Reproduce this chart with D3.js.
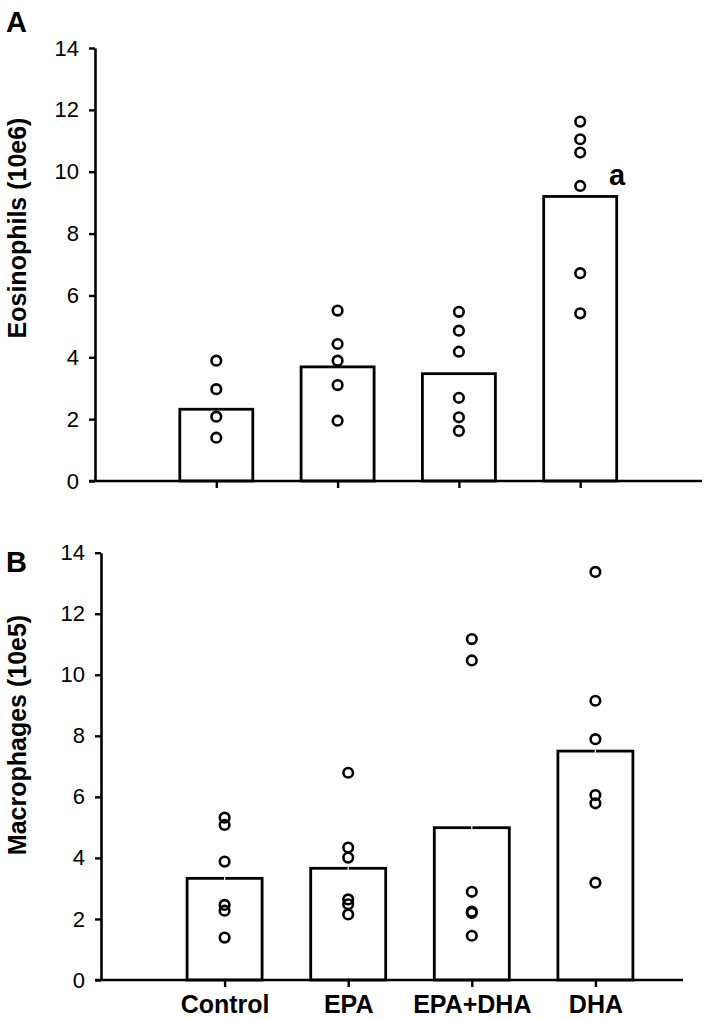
<!DOCTYPE html>
<html><head><meta charset="utf-8">
<script src="https://cdn.jsdelivr.net/npm/d3@7"></script>
<style>
html,body{margin:0;padding:0;background:#fff;}
text{font-family:"Liberation Sans",Arial,sans-serif;fill:#000;}
</style></head>
<body>
<script>
const categories = ["Control", "EPA", "EPA+DHA", "DHA"];
const yTickValues = [0, 2, 4, 6, 8, 10, 12, 14];

const eosinophilMeans = [2.32, 3.69, 3.47, 9.2];
const eosinophilPoints = [
  [3.89, 2.97, 2.08, 1.40],
  [5.51, 4.43, 3.89, 3.10, 1.95],
  [5.47, 4.86, 4.18, 2.69, 2.06, 1.62],
  [11.62, 11.05, 10.62, 9.54, 6.72, 5.42]
];
const macrophageMeans = [3.33, 3.66, 4.99, 7.50];
const macrophagePoints = [
  [5.32, 5.08, 3.88, 2.46, 2.27, 1.39],
  [6.79, 4.34, 4.01, 2.64, 2.48, 2.15],
  [11.17, 10.47, 2.89, 2.24, 2.20, 1.45],
  [13.37, 9.15, 7.89, 6.06, 5.79, 3.19]
];

const W = 705, H = 1019;
const svg = d3.select("body").append("svg").attr("width", W).attr("height", H);

function panel(cfg) {
  const g = svg.append("g");
  const y = d3.scaleLinear().domain([0, 14]).range([cfg.y0, cfg.y14]);
  const x = d3.scalePoint().domain(categories).range([cfg.ax, cfg.ax + 5 * cfg.step]).padding(1);

  g.selectAll("rect.bar").data(cfg.means).join("rect")
    .attr("x", (d, i) => x(categories[i]) - cfg.bw / 2)
    .attr("y", d => y(d))
    .attr("width", cfg.bw)
    .attr("height", d => y(0) - y(d))
    .attr("fill", "#fff").attr("stroke", "#000").attr("stroke-width", 2.8);

  if (cfg.notch) {
    g.selectAll("line.notch").data(cfg.means).join("line")
      .attr("x1", (d, i) => x(categories[i])).attr("x2", (d, i) => x(categories[i]))
      .attr("y1", d => y(d) - 1.6).attr("y2", d => y(d) + 1.6)
      .attr("stroke", "#fff").attr("stroke-width", 1.2);
  }

  cfg.points.forEach((arr, i) => {
    g.selectAll(null).data(arr).join("circle")
      .attr("cx", x(categories[i]))
      .attr("cy", d => y(d))
      .attr("r", 4.8)
      .attr("fill", "none").attr("stroke", "#000").attr("stroke-width", 2.6);
  });

  const ya = d3.axisLeft(y).tickValues(yTickValues).tickSize(6).tickSizeOuter(0).tickPadding(10);
  const yg = g.append("g").attr("transform", `translate(${cfg.ax},0)`).call(ya);
  yg.select(".domain").attr("stroke-width", 2.6);
  yg.selectAll(".tick line").attr("stroke-width", 2.4);
  yg.selectAll(".tick text").attr("font-size", 22).attr("font-family", "Liberation Sans, Arial, sans-serif").attr("fill", "#000");

  const xa = d3.axisBottom(x).tickSize(7).tickSizeOuter(0).tickPadding(8)
    .tickFormat(cfg.showLabels ? (d => d) : () => "");
  const xg = g.append("g").attr("transform", `translate(0,${cfg.y0})`).call(xa);
  xg.select(".domain").remove();
  xg.selectAll(".tick line").attr("stroke-width", 2.4);
  xg.selectAll(".tick text").attr("font-size", 25).attr("font-weight", "bold")
    .attr("font-family", "Liberation Sans, Arial, sans-serif").attr("fill", "#000");
  g.append("line").attr("x1", cfg.ax - 6).attr("x2", cfg.xEnd)
    .attr("y1", cfg.y0).attr("y2", cfg.y0).attr("stroke", "#000").attr("stroke-width", 2.6);

  g.append("text")
    .attr("transform", `translate(${cfg.titleX},${cfg.titleY}) rotate(-90)`)
    .attr("text-anchor", "middle").attr("font-size", 25).attr("font-weight", "bold")
    .text(cfg.title);

  g.append("text").attr("x", 6).attr("y", cfg.letterY)
    .attr("font-size", 29).attr("font-weight", "bold").text(cfg.letter);
  return {x, y, g};
}

const A = panel({
  ax: 95, step: 121.3, y0: 481, y14: 48, bw: 73, xEnd: 702,
  means: eosinophilMeans, points: eosinophilPoints, showLabels: false, notch: false,
  title: "Eosinophils (10e6)", titleX: 26, titleY: 228, letter: "A", letterY: 32
});
A.g.append("text").attr("x", 609).attr("y", 185)
  .attr("font-size", 29).attr("font-weight", "bold").text("a");

panel({
  ax: 101, step: 123.6, y0: 980, y14: 552.7, bw: 75, xEnd: 683,
  means: macrophageMeans, points: macrophagePoints, showLabels: true, notch: true,
  title: "Macrophages (10e5)", titleX: 26, titleY: 735, letter: "B", letterY: 572
});
</script>
</body></html>
